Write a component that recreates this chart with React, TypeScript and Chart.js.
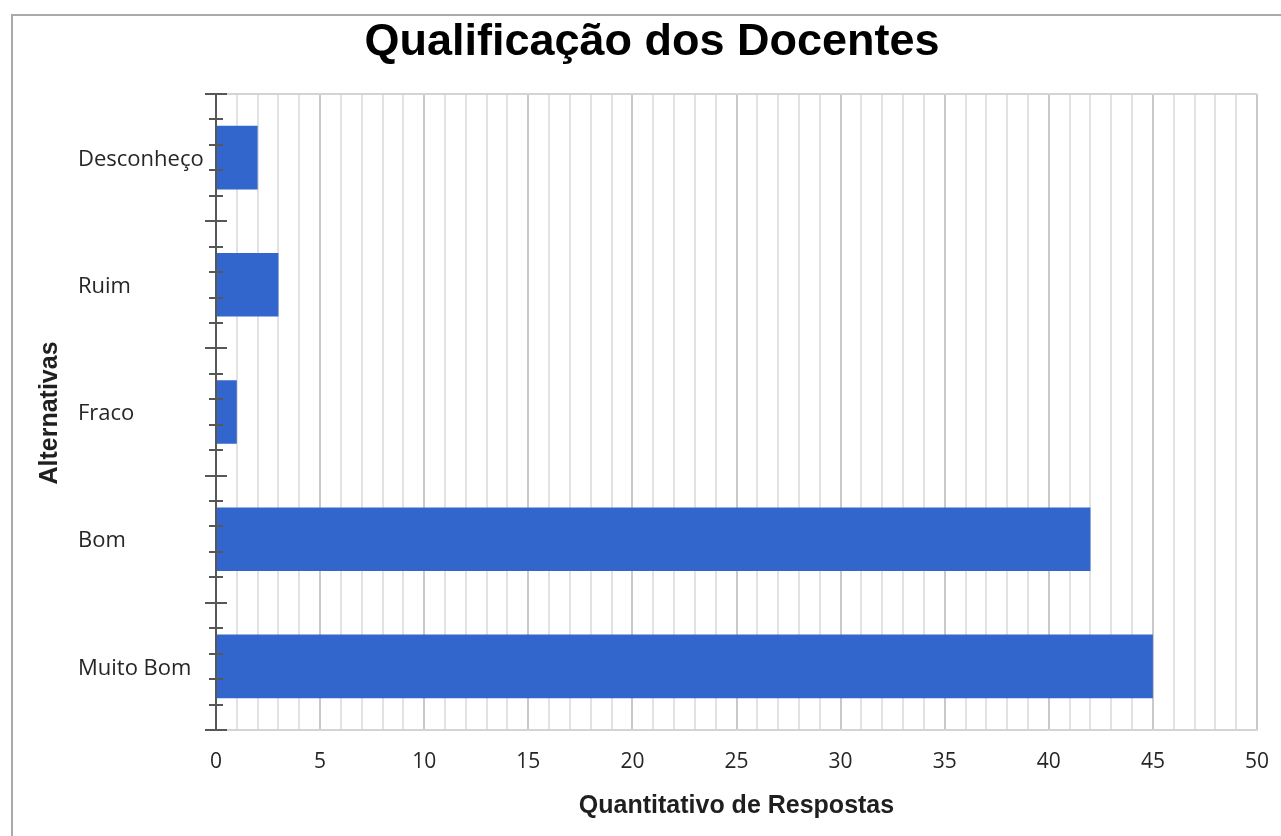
import React, { useEffect, useRef } from 'react';
import { Chart, registerables } from 'chart.js';

Chart.register(...registerables);

// ---- data ----
const categories: string[] = ['Desconheço', 'Ruim', 'Fraco', 'Bom', 'Muito Bom'];
const responses: number[] = [2, 3, 1, 42, 45];
const xMin = 0;
const xMax = 50;
const xStep = 1;
const xLabelEvery = 5;
const chartTitle = 'Qualificação dos Docentes';
const yAxisTitle = 'Alternativas';
const xAxisTitle = 'Quantitativo de Respostas';

const W = 1281;
const H = 836;

const decorPlugin = {
  id: 'decor',
  beforeDatasetsDraw(chart: any) {
    const { ctx, chartArea } = chart;
    ctx.save();
    ctx.strokeStyle = '#d4d4d4';
    ctx.lineWidth = 2;
    ctx.beginPath();
    ctx.moveTo(chartArea.left, chartArea.top);
    ctx.lineTo(chartArea.right, chartArea.top);
    ctx.stroke();
    ctx.restore();
  },
  afterDatasetsDraw(chart: any) {
    const { ctx, chartArea } = chart;
    const y = chart.scales.y;
    const x0 = Math.round(chartArea.left);
    ctx.save();
    ctx.strokeStyle = '#575757';
    ctx.lineWidth = 2;
    ctx.beginPath();
    ctx.moveTo(x0, chartArea.top);
    ctx.lineTo(x0, chartArea.bottom);
    const n = categories.length;
    for (let i = 0; i <= n; i++) {
      const yy = Math.round(y.getPixelForValue(i - 0.5));
      ctx.moveTo(x0 - 11, yy);
      ctx.lineTo(x0 + 11, yy);
      if (i < n) {
        for (let k = 1; k < 5; k++) {
          const ym = Math.round(y.getPixelForValue(i - 0.5 + k / 5));
          ctx.moveTo(x0 - 7, ym);
          ctx.lineTo(x0 + 7, ym);
        }
      }
    }
    ctx.stroke();
    ctx.restore();
  },
  afterDraw(chart: any) {
    const { ctx } = chart;
    ctx.save();
    ctx.fillStyle = '#000000';
    ctx.font = 'bold 45px "Liberation Sans", Arial, sans-serif';
    ctx.textAlign = 'center';
    ctx.textBaseline = 'middle';
    ctx.fillText(chartTitle, 652, 43);

    ctx.translate(50, 413);
    ctx.rotate(-Math.PI / 2);
    ctx.fillStyle = '#1f1f1f';
    ctx.font = 'bold 25px "Liberation Sans", Arial, sans-serif';
    ctx.fillText(yAxisTitle, 0, 0);
    ctx.restore();
  },
};

export default function App() {
  const ref = useRef<HTMLCanvasElement | null>(null);

  useEffect(() => {
    if (!ref.current) return;
    const chart = new Chart(ref.current, {
      type: 'bar',
      data: {
        labels: categories,
        datasets: [
          {
            label: xAxisTitle,
            data: responses,
            backgroundColor: '#3366cc',
            borderWidth: 0,
            categoryPercentage: 1,
            barPercentage: 0.5,
          },
        ],
      },
      options: {
        indexAxis: 'y',
        responsive: false,
        animation: false,
        layout: { padding: { left: 78, top: 94, right: 24, bottom: 0 } },
        plugins: {
          legend: { display: false },
          title: { display: false },
          tooltip: { enabled: false },
        },
        scales: {
          x: {
            type: 'linear',
            min: xMin,
            max: xMax,
            afterFit: (s: any) => {
              s.height = 106;
              s.paddingLeft = 0;
              s.paddingRight = 0;
            },
            ticks: {
              stepSize: xStep,
              autoSkip: false,
              maxRotation: 0,
              padding: 19,
              color: '#262626',
              font: { family: '"Open Sans", sans-serif', size: 21 },
              callback: (v: any) => (Number(v) % xLabelEvery === 0 ? String(v) : ''),
            },
            grid: {
              drawTicks: false,
              lineWidth: 2,
              color: (c: any) =>
                c.tick && c.tick.value % xLabelEvery === 0 ? '#c9c9c9' : '#e2e2e2',
            },
            border: { display: true, color: '#d4d4d4', width: 2 },
            title: {
              display: true,
              text: xAxisTitle,
              color: '#1f1f1f',
              font: { family: '"Liberation Sans", Arial, sans-serif', size: 25, weight: 'bold' },
              padding: { top: 0, bottom: 15 },
            },
          },
          y: {
            type: 'category',
            afterFit: (s: any) => {
              s.width = 138;
            },
            ticks: {
              crossAlign: 'far',
              labelOffset: 2,
              color: '#262626',
              font: { family: '"Open Sans", sans-serif', size: 22 },
            },
            grid: { display: false, drawTicks: false },
            border: { display: false },
          },
        },
      },
      plugins: [decorPlugin],
    } as any);
    return () => chart.destroy();
  }, []);

  return (
    <div
      style={{
        position: 'fixed',
        left: 0,
        top: 0,
        width: W,
        height: H,
        overflow: 'hidden',
        background: '#ffffff',
      }}
    >
      <div
        style={{
          position: 'absolute',
          left: 11,
          top: 14,
          width: W + 40,
          height: H + 40,
          border: '2px solid #a9a9a9',
        }}
      />
      <canvas
        ref={ref}
        width={W}
        height={H}
        style={{ position: 'absolute', left: 0, top: 0, width: W, height: H }}
      />
    </div>
  );
}
